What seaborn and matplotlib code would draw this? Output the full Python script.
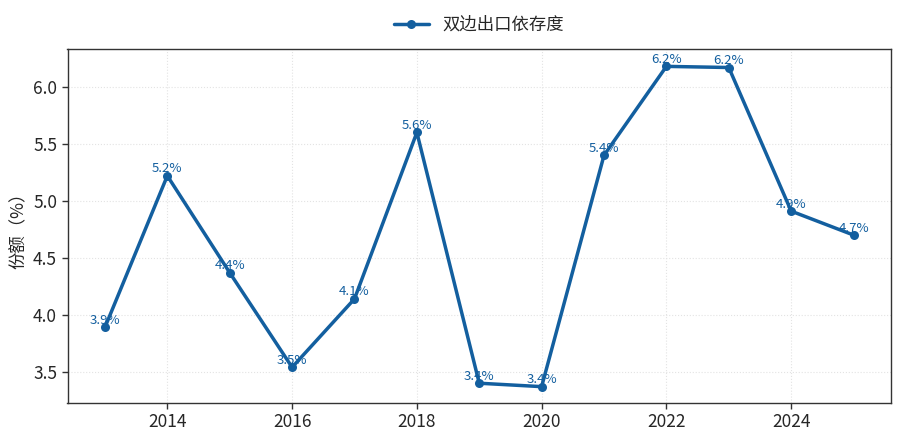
import pandas as pd
import matplotlib.pyplot as plt
import seaborn as sns

# Data
years = [2013, 2014, 2015, 2016, 2017, 2018, 2019, 2020, 2021, 2022, 2023, 2024, 2025]
share = [3.89, 5.22, 4.37, 3.54, 4.14, 5.60, 3.40, 3.37, 5.40, 6.18, 6.17, 4.91, 4.70]
labels = ['3.9%', '5.2%', '4.4%', '3.5%', '4.1%', '5.6%', '3.4%', '3.4%', '5.4%', '6.2%', '6.2%', '4.9%', '4.7%']
series_name = '双边出口依存度'

df = pd.DataFrame({'年份': years, '份额': share, '序列': series_name})

sns.set_style('white')
plt.rcParams['font.family'] = ['Noto Sans CJK SC', 'DejaVu Sans']
plt.rcParams['axes.unicode_minus'] = False

color = '#135f9f'

fig = plt.figure(figsize=(9, 4.4), dpi=100)
ax = fig.add_axes([0.075, 0.085, 0.915, 0.803])

sns.lineplot(data=df, x='年份', y='份额', hue='序列', palette=[color],
             marker='o', markersize=6.5, markeredgewidth=0, linewidth=2.5, ax=ax)

# value labels above each point
for x, y, t in zip(years, share, labels):
    ax.annotate(t, (x, y), xytext=(0, 5), textcoords='offset points',
                ha='center', va='center', fontsize=9.5, color=color)

ax.set_ylim(3.23, 6.33)
ax.set_xticks([2014, 2016, 2018, 2020, 2022, 2024])
ax.set_yticks([3.5, 4.0, 4.5, 5.0, 5.5, 6.0])
ax.tick_params(axis='both', labelsize=12.5, length=4, width=1, color='#333333', left=True, bottom=True)
ax.set_xlabel('')
ax.set_ylabel('份额（%）', fontsize=12.5)
ax.grid(True, linestyle=':', color='#e3e3e3', linewidth=0.8)
for s in ax.spines.values():
    s.set_color('#333333')
    s.set_linewidth(1)

ax.legend(loc='lower center', bbox_to_anchor=(0.5, 1.0), ncol=1, frameon=False, fontsize=12.5, title=None)

fig.savefig('out.png', dpi=100)
